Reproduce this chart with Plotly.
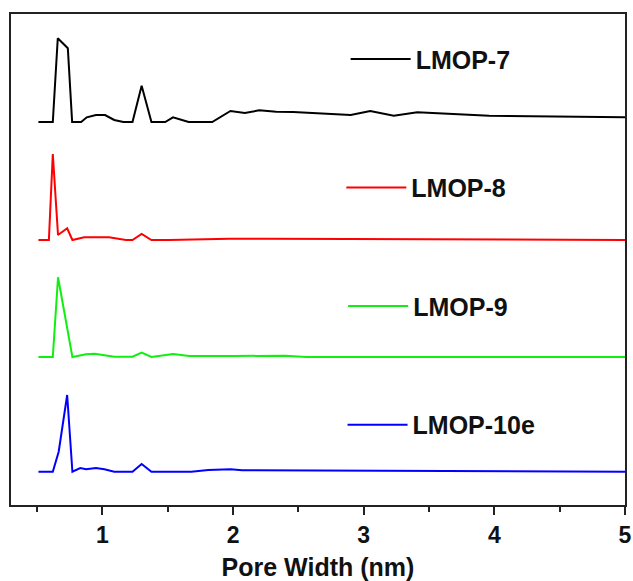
import plotly.graph_objects as go

# Pore width (nm) and peak heights above each curve's baseline (arbitrary units)
names = ["LMOP-7", "LMOP-8", "LMOP-9", "LMOP-10e"]
colors = ["#000000", "#ff0000", "#11ee11", "#0000ff"]
offsets = [383, 265, 148, 33.3]

x7 = [0.51, 0.62, 0.658, 0.735, 0.768, 0.837, 0.88, 0.95, 1.02, 1.09, 1.16, 1.23, 1.30, 1.375,
      1.48, 1.54, 1.66, 1.84, 1.98, 2.09, 2.20, 2.33, 2.46, 2.66, 2.90, 3.05, 3.23, 3.41, 3.96, 5.0]
y7 = [0, 0, 83.7, 73.7, 0, 0, 4.7, 7, 7, 2, 0, 0, 36.3, 0,
      0, 4.7, 0, 0, 11, 9, 11.7, 10.3, 10, 8.7, 7, 11, 6.3, 9.7, 6.3, 4.7]

x8 = [0.51, 0.59, 0.62, 0.66, 0.73, 0.77, 0.86, 1.05, 1.18, 1.23, 1.30, 1.375, 1.51, 1.87, 1.97, 2.25, 2.66, 5.0]
y8 = [0, 0, 86, 5, 11.7, 0, 2.7, 2.7, 0, 0, 6, 0, 0, 1, 1.3, 1.3, 1, 0]

x9 = [0.51, 0.62, 0.66, 0.77, 0.875, 0.94, 1.09, 1.23, 1.30, 1.375, 1.54, 1.665, 2.0, 2.40, 2.56, 5.0]
y9 = [0, 0, 79.7, 0, 2.7, 3.3, 0.3, 0.3, 4.3, 0, 3, 1, 1, 1.3, 0, 0]

x10 = [0.51, 0.62, 0.665, 0.73, 0.77, 0.83, 0.875, 0.95, 1.015, 1.09, 1.23, 1.30, 1.375, 1.68, 1.81,
       1.98, 2.07, 2.66, 5.0]
y10 = [0, 0, 20, 76.7, 0, 3.7, 2.4, 3.7, 2.4, 0, 0, 7.7, 0, 0, 1.7, 2.4, 1.4, 1, 0]

xs = [x7, x8, x9, x10]
ys = [y7, y8, y9, y10]

legend_ids = ["legend", "legend2", "legend3", "legend4"]
legend_pos = [(0.545, 0.908), (0.538, 0.646), (0.541, 0.405), (0.540, 0.163)]

FONT = "Liberation Sans, Arial, sans-serif"

fig = go.Figure()
for n, c, o, xv, yv, lg in zip(names, colors, offsets, xs, ys, legend_ids):
    fig.add_trace(go.Scatter(
        x=xv, y=[v + o for v in yv], mode="lines", name=n,
        line=dict(color=c, width=2), legend=lg, showlegend=True,
    ))

layout_legends = {}
for lg, (lx, ly) in zip(legend_ids, legend_pos):
    layout_legends[lg] = dict(
        x=lx, y=ly, xanchor="left", yanchor="middle",
        bgcolor="rgba(0,0,0,0)", borderwidth=0, itemwidth=60,
        font=dict(family=FONT, size=25, color="#111111", weight="bold"),
    )

fig.update_layout(
    width=633, height=581,
    margin=dict(l=11, r=8, t=14, b=76),
    paper_bgcolor="white", plot_bgcolor="white",
    **layout_legends,
)

fig.update_xaxes(
    range=[0.3, 5.0], tick0=0, dtick=1, automargin=False,
    showline=True, mirror=True, linecolor="#222222", linewidth=2,
    ticks="outside", ticklen=8, tickwidth=2, tickcolor="#222222",
    minor=dict(ticks="outside", ticklen=5, tickwidth=2, tickcolor="#222222", tick0=0.5, dtick=0.5),
    showgrid=False, zeroline=False,
    tickfont=dict(family=FONT, size=23, color="#111111", weight="bold"),
    title=dict(text="Pore Width (nm)", standoff=12,
               font=dict(family=FONT, size=25, color="#111111", weight="bold")),
)
fig.update_yaxes(
    range=[0, 491], automargin=False, showline=True, mirror=True, linecolor="#222222", linewidth=2,
    ticks="", showticklabels=False, showgrid=False, zeroline=False,
)

fig.write_html("out.html")
